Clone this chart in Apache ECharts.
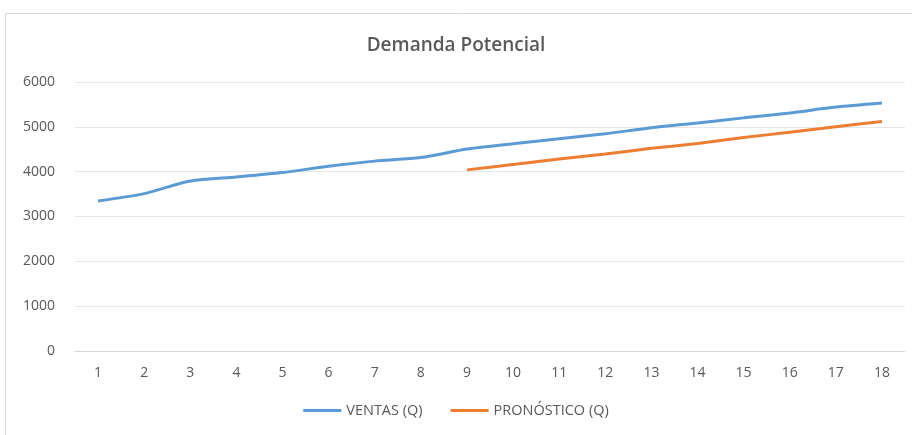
<!DOCTYPE html>
<html>
<head>
<meta charset="utf-8">
<script src="https://cdn.jsdelivr.net/npm/echarts@6/dist/echarts.min.js"></script>
<style>
html,body{margin:0;padding:0;background:#fff;}
#c{width:912px;height:435px;}
</style>
</head>
<body>
<div id="c"></div>
<script>
const categories = ['1','2','3','4','5','6','7','8','9','10','11','12','13','14','15','16','17','18'];
const ventas = [3345, 3510, 3790, 3880, 3980, 4120, 4235, 4315, 4505, 4625, 4735, 4845, 4980, 5085, 5200, 5310, 5440, 5530];
const pronostico = [null, null, null, null, null, null, null, null, 4040, 4160, 4280, 4395, 4520, 4630, 4760, 4880, 5000, 5120];
const yTicks = [0, 1000, 2000, 3000, 4000, 5000, 6000];

const font = '"Open Sans", "Liberation Sans", sans-serif';
const chart = echarts.init(document.getElementById('c'));
chart.setOption({
  animation: false,
  backgroundColor: '#fff',
  graphic: [{
    type: 'rect',
    shape: {x: 5.5, y: 13.5, width: 920, height: 440},
    style: {fill: 'none', stroke: '#d9d9d9', lineWidth: 1},
    silent: true, z: -1
  }],
  title: {
    text: 'Demanda Potencial',
    left: 'center',
    top: 31,
    textStyle: {fontFamily: font, fontSize: 19, fontWeight: 600, color: '#595959'}
  },
  legend: {
    bottom: 12,
    left: 'center',
    itemWidth: 38,
    itemHeight: 3,
    itemGap: 28,
    icon: 'rect',
    textStyle: {fontFamily: font, fontSize: 14.5, color: '#595959'},
    data: ['VENTAS (Q)', 'PRONÓSTICO (Q)']
  },
  grid: {left: 75, right: 7, top: 82, bottom: 84},
  xAxis: {
    type: 'category',
    data: categories,
    boundaryGap: true,
    axisLine: {show: true, lineStyle: {color: '#d9d9d9'}},
    axisTick: {show: false},
    axisLabel: {fontFamily: font, fontSize: 14, color: '#595959', margin: 15}
  },
  yAxis: {
    type: 'value',
    min: yTicks[0],
    max: yTicks[yTicks.length - 1],
    interval: 1000,
    axisLine: {show: false},
    axisTick: {show: false},
    splitLine: {lineStyle: {color: '#e6e6e6', width: 1}},
    axisLabel: {fontFamily: font, fontSize: 14, color: '#595959', margin: 20, formatter: v => String(v)}
  },
  series: [
    {
      name: 'VENTAS (Q)', type: 'line', data: ventas, smooth: 0.25,
      showSymbol: false, symbol: 'none',
      lineStyle: {color: '#5B9BD5', width: 3}, itemStyle: {color: '#5B9BD5'}
    },
    {
      name: 'PRONÓSTICO (Q)', type: 'line', data: pronostico, smooth: 0.25,
      showSymbol: false, symbol: 'none',
      lineStyle: {color: '#ED7D31', width: 3}, itemStyle: {color: '#ED7D31'}
    }
  ]
});
</script>
</body>
</html>
